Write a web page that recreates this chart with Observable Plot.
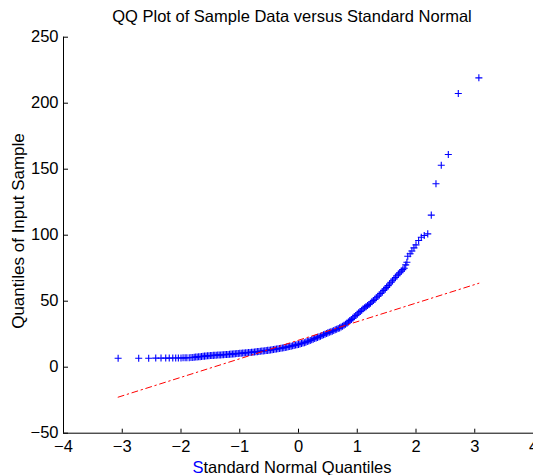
<!DOCTYPE html>
<html>
<head>
<meta charset="utf-8">
<script src="https://cdn.jsdelivr.net/npm/d3@7"></script>
<script src="https://cdn.jsdelivr.net/npm/@observablehq/plot@0.6"></script>
<style>
  html, body { margin: 0; padding: 0; background: #fff; }
  svg { display: block; }
</style>
</head>
<body>
<div id="chart"></div>
<script>
// ---- Data ----
const titleText = "QQ Plot of Sample Data versus Standard Normal";
const xLabelFirst = "S";
const xLabelRest = "tandard Normal Quantiles";
const yLabelText = "Quantiles of Input Sample";

const xTicks = [-4, -3, -2, -1, 0, 1, 2, 3, 4];
const yTicks = [-50, 0, 50, 100, 150, 200, 250];

// Standard normal quantiles (x) of the plotted points
const qx = [
  -3.07, -2.72, -2.55, -2.43, -2.34, -2.26, -2.20, -2.14, -2.09, -2.045,
  -2.00, -1.965, -1.93, -1.90, -1.86, -1.83, -1.80,
  -1.775, -1.75, -1.725, -1.70, -1.675, -1.65, -1.625, -1.60, -1.575, -1.55,
  -1.525, -1.50, -1.475, -1.45, -1.425, -1.40, -1.375, -1.35, -1.325, -1.30,
  -1.275, -1.25, -1.225, -1.20, -1.175, -1.15, -1.125, -1.10, -1.075, -1.05,
  -1.025, -1.00, -0.975, -0.95, -0.925, -0.90, -0.875, -0.85, -0.825, -0.80,
  -0.775, -0.75, -0.725, -0.70, -0.675, -0.65, -0.625, -0.60, -0.575, -0.55,
  -0.525, -0.50, -0.475, -0.45, -0.425, -0.40, -0.375, -0.35, -0.325, -0.30,
  -0.275, -0.25, -0.225, -0.20, -0.175, -0.15, -0.125, -0.10, -0.075, -0.05,
  -0.025, 0.00, 0.025, 0.05, 0.075, 0.10, 0.125, 0.15, 0.175, 0.20,
  0.225, 0.25, 0.275, 0.30, 0.325, 0.35, 0.375, 0.40, 0.425, 0.45,
  0.475, 0.50, 0.525, 0.55, 0.575, 0.60, 0.625, 0.65, 0.675, 0.70,
  0.725, 0.75, 0.775, 0.80, 0.825, 0.85, 0.875, 0.90, 0.925, 0.95,
  0.975, 1.00, 1.025, 1.05, 1.075, 1.10, 1.125, 1.15, 1.175, 1.20,
  1.225, 1.25, 1.275, 1.30, 1.325, 1.35, 1.375, 1.40, 1.425, 1.45,
  1.475, 1.50, 1.525, 1.55, 1.575, 1.60, 1.625, 1.65, 1.675, 1.70,
  1.725, 1.75, 1.775, 1.80,
  1.825, 1.845, 1.86, 1.90, 1.93, 1.965, 2.00, 2.045, 2.09, 2.14,
  2.20, 2.26, 2.34, 2.43, 2.55, 2.72, 3.07
];

// Sample quantiles (y) of the plotted points
const qy = [
  6.8, 6.8, 6.8, 6.9, 6.9, 6.9, 6.9, 7.0, 7.0, 7.0,
  7.0, 7.1, 7.1, 7.2, 7.2, 7.3, 7.4,
  7.5, 7.65, 7.8, 7.9, 8.0, 8.15, 8.3, 8.4, 8.5, 8.6,
  8.7, 8.8, 8.9, 8.95, 9.0, 9.1, 9.2, 9.25, 9.3, 9.4,
  9.5, 9.55, 9.6, 9.7, 9.8, 9.9, 10.0, 10.1, 10.2, 10.3,
  10.4, 10.5, 10.6, 10.7, 10.8, 10.9, 11.0, 11.1, 11.2, 11.3,
  11.4, 11.55, 11.7, 11.8, 11.9, 12.05, 12.2, 12.3, 12.45, 12.6,
  12.75, 12.9, 13.1, 13.25, 13.4, 13.6, 13.8, 14.0, 14.2, 14.4,
  14.6, 14.8, 15.0, 15.2, 15.45, 15.7, 15.95, 16.2, 16.5, 16.75,
  17.0, 17.3, 17.6, 17.9, 18.3, 18.6, 19.0, 19.4, 19.9, 20.3,
  20.8, 21.2, 21.7, 22.2, 22.6, 23.1, 23.5, 24.0, 24.5, 25.0,
  25.5, 26.0, 26.4, 26.9, 27.3, 27.8, 28.3, 28.8, 29.3, 29.8,
  30.5, 31.1, 31.8, 32.5, 33.4, 34.3, 35.3, 36.2, 37.2, 38.2,
  39.2, 40.2, 41.2, 42.2, 43.2, 44.2, 45.0, 45.9, 46.7, 47.5,
  48.5, 49.5, 50.5, 51.5, 52.6, 53.7, 54.7, 55.8, 57.0, 58.2,
  59.3, 60.5, 61.8, 63.0, 64.3, 65.5, 66.8, 68.0, 69.3, 70.5,
  71.6, 72.8, 73.9, 75.0,
  77.5, 79.5, 84.0, 86.0, 88.0, 90.4, 92.7, 96.0, 98.5, 99.8,
  101.0, 115.2, 139.0, 153.0, 161.1, 207.3, 219.2
];

// Reference line (through the quartiles), drawn between the extreme quantiles
const refX = [-3.07, 3.07];
const refY = [-22.7, 63.6];

// ---- Build the table for Plot ----
const points = qx.map((x, i) => ({x, y: qy[i]}));
const refLine = refX.map((x, i) => ({x, y: refY[i]}));

const FONT = "'Liberation Sans', Arial, Helvetica, sans-serif";

const chart = Plot.plot({
  width: 533,
  height: 475,
  marginLeft: 63,
  marginRight: 0,
  marginTop: 36.7,
  marginBottom: 42.3,
  style: {fontFamily: FONT, fontSize: "16.5px", background: "#fff", color: "#000", overflow: "visible"},
  x: {domain: [-4, 4]},
  y: {domain: [-50, 250]},
  marks: [
    Plot.dot(points, {x: "x", y: "y", symbol: "plus", r: 2.4, stroke: "#0000ff", strokeWidth: 1.1}),
    Plot.line(refLine, {x: "x", y: "y", stroke: "#ff0000", strokeWidth: 1, strokeDasharray: "6,3.5,1.5,3.5"}),
    Plot.ruleX([-4], {stroke: "#000", strokeWidth: 1}),
    Plot.ruleY([-50], {stroke: "#000", strokeWidth: 1}),
    Plot.axisX({ticks: xTicks, tickSize: -4, tickPadding: 11, fontSize: 16.5, label: null, stroke: "#000"}),
    Plot.axisY({ticks: yTicks, tickSize: -5, tickPadding: 10, fontSize: 16.5, label: null, stroke: "#000"})
  ]
});

const svg = d3.select(chart);
svg.append("text")
  .attr("x", 292).attr("y", 21.7)
  .attr("text-anchor", "middle")
  .attr("font-family", FONT).attr("font-size", 16.5)
  .attr("fill", "#000")
  .text(titleText);

const xl = svg.append("text")
  .attr("x", 292).attr("y", 473)
  .attr("text-anchor", "middle")
  .attr("font-family", FONT).attr("font-size", 16.5)
  .attr("fill", "#000");
xl.append("tspan").attr("fill", "#0000ff").text(xLabelFirst);
xl.append("tspan").text(xLabelRest);

svg.append("text")
  .attr("transform", "translate(24,231) rotate(-90)")
  .attr("text-anchor", "middle")
  .attr("font-family", FONT).attr("font-size", 17)
  .attr("fill", "#000")
  .text(yLabelText);

document.getElementById("chart").appendChild(chart);
</script>
</body>
</html>
